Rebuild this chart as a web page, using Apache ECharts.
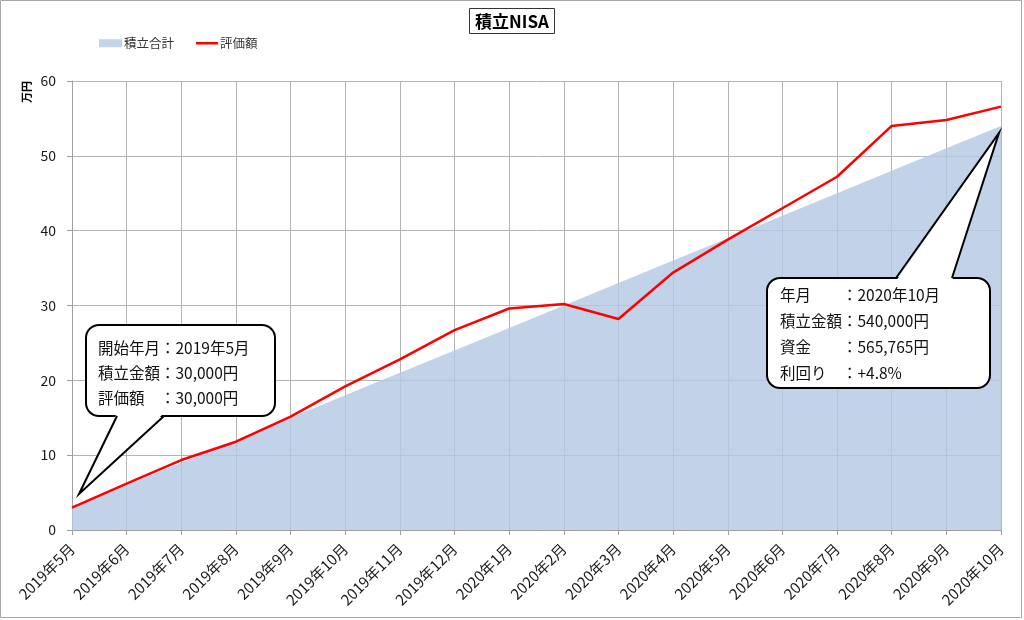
<!DOCTYPE html>
<html>
<head>
<meta charset="utf-8">
<script src="https://cdn.jsdelivr.net/npm/echarts@6/dist/echarts.min.js"></script>
<style>html,body{margin:0;padding:0;background:#fff;}#c{width:1024px;height:620px;}</style>
</head>
<body>
<div id="c"></div>
<script>
const months = ['2019年5月','2019年6月','2019年7月','2019年8月','2019年9月','2019年10月','2019年11月','2019年12月','2020年1月','2020年2月','2020年3月','2020年4月','2020年5月','2020年6月','2020年7月','2020年8月','2020年9月','2020年10月'];
const tsumitate = [3,6,9,12,15,18,21,24,27,30,33,36,39,42,45,48,51,54];
const hyoka = [3.0,6.2,9.35,11.8,15.15,19.2,22.8,26.7,29.6,30.2,28.2,34.4,38.8,43.0,47.2,54.0,54.8,56.58];
const yTicks = {min:0, max:60, interval:10};
const callout1Lines = ['開始年月：2019年5月','積立金額：30,000円','評価額　：30,000円'];
const callout2Lines = ['年月　　：2020年10月','積立金額：540,000円','資金　　：565,765円','利回り　：+4.8%'];

const FONT = '"Noto Sans CJK JP", "Noto Sans", sans-serif';
const chart = echarts.init(document.getElementById('c'), null, {renderer:'canvas'});
chart.setOption({
  animation:false,
  backgroundColor:'#fff',
  textStyle:{fontFamily:FONT},
  title:{text:'積立NISA', left:'center', top:8, padding:[5,6,4,6], borderColor:'#333', borderWidth:1,
    textStyle:{fontSize:17, fontWeight:'bold', color:'#000', fontFamily:FONT}},
  legend:[
    {left:94, top:32, itemWidth:23, itemHeight:8, itemGap:22,
      textStyle:{fontSize:12.5, color:'#333', padding:[0,0,0,-3]},
      data:[{name:'積立合計', icon:'rect'}]},
    {left:191, top:32, itemWidth:22, itemHeight:2.5, itemGap:22,
      textStyle:{fontSize:12.5, color:'#333', padding:[0,0,0,-3]},
      data:[{name:'評価額', icon:'rect', itemStyle:{color:'#ff0000'}}]}
  ],
  grid:{left:72, right:23, top:81, bottom:90},
  xAxis:{type:'category', data:months, boundaryGap:false,
    axisLine:{lineStyle:{color:'#a0a0a0'}},
    axisTick:{show:true, length:5, interval:0, lineStyle:{color:'#a0a0a0'}},
    splitLine:{show:true, interval:0, lineStyle:{color:'#b4b4b4'}},
    axisLabel:{interval:0, rotate:45, fontSize:15, color:'#1a1a1a', margin:16}},
  yAxis:{type:'value', min:yTicks.min, max:yTicks.max, interval:yTicks.interval,
    axisLine:{show:true, lineStyle:{color:'#a0a0a0'}},
    axisTick:{show:true, length:5, lineStyle:{color:'#a0a0a0'}},
    splitLine:{show:true, lineStyle:{color:'#b4b4b4'}},
    axisLabel:{fontSize:14, color:'#1a1a1a', margin:16}},
  series:[
    {name:'積立合計', type:'line', data:tsumitate, symbol:'none', lineStyle:{width:0},
      itemStyle:{color:'#c3d3e8'}, areaStyle:{color:'rgb(180,200,228)', opacity:0.82}, z:1},
    {name:'評価額', type:'line', data:hyoka, symbol:'none', lineStyle:{width:2.5, color:'#ff0000'},
      itemStyle:{color:'#ff0000'}, z:3}
  ]
});

function callout(box, baseA, baseB, onBottom, tip, lines, textX, firstY, gap){
  const inset = onBottom ? -3 : 3;
  const by = onBottom ? box.y + box.height : box.y;
  const els = [
    {type:'rect', z:100, shape:{x:box.x, y:box.y, width:box.width, height:box.height, r:13},
      style:{fill:'#fff', stroke:'#000', lineWidth:2}},
    {type:'polygon', z:101, shape:{points:[[baseA, by+inset],[tip[0],tip[1]],[baseB, by+inset]]},
      style:{fill:'#fff', stroke:null}},
    {type:'polyline', z:102, shape:{points:[[baseA, by],[tip[0],tip[1]],[baseB, by]]},
      style:{fill:null, stroke:'#000', lineWidth:2, lineJoin:'miter'}}
  ];
  lines.forEach((t,i)=>{
    els.push({type:'text', z:103, x:textX, y:firstY + i*gap,
      style:{text:t, fontSize:15.5, fontFamily:FONT, fill:'#111', verticalAlign:'middle', align:'left'}});
  });
  return els;
}

const p1 = chart.convertToPixel({seriesIndex:0}, [0, tsumitate[0]]);
const p2 = chart.convertToPixel({seriesIndex:0}, [months.length-1, tsumitate[tsumitate.length-1]]);
const els = [
  {type:'rect', z:0, shape:{x:0.5, y:0.5, width:1021, height:617}, style:{fill:null, stroke:'#a8a8a8', lineWidth:1}},
  {type:'text', z:10, x:27, y:92, rotation:Math.PI/2,
    style:{text:'万円', fontSize:11, fontWeight:'bold', fontFamily:FONT, fill:'#000', align:'center', verticalAlign:'middle'}}
].concat(
  callout({x:86, y:325, width:189, height:91}, 117, 164, true, [p1[0]+7, p1[1]-13.5], callout1Lines, 98, 348, 25),
  callout({x:767, y:278, width:223, height:110}, 896, 952, false, [p2[0]-2, p2[1]+7], callout2Lines, 780, 295, 26)
);
chart.setOption({graphic:{elements:els}});
</script>
</body>
</html>
